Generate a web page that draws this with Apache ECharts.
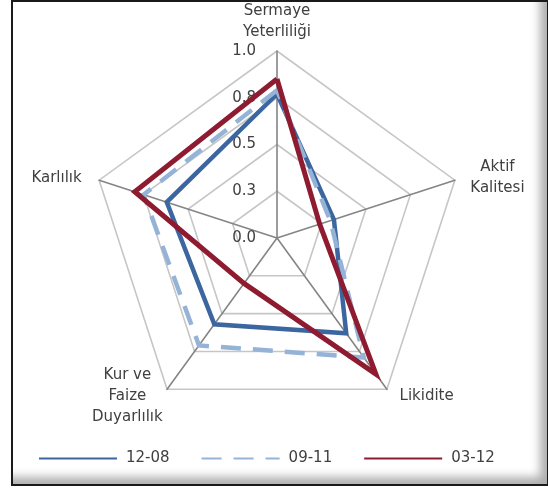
<!DOCTYPE html>
<html>
<head>
<meta charset="utf-8">
<script src="https://cdn.jsdelivr.net/npm/echarts@6/dist/echarts.min.js"></script>
<style>
  html, body { margin: 0; padding: 0; background: #ffffff; }
  #frame {
    position: absolute; left: 11px; top: 0px; width: 534px; height: 482px;
    border: 2px solid #1a1a1a; background: #ffffff;
    box-shadow: inset -13px -13px 10px -6px rgba(0,0,0,0.32);
  }
  #chart { position: absolute; left: 0; top: 0; width: 548px; height: 489px; }
</style>
</head>
<body>
<div id="frame"></div>
<div id="chart"></div>
<script>
// Indicator order (ECharts places them counter-clockwise from the top)
const indicators = ['Sermaye\nYeterliliği', 'Karlılık', 'Kur ve\nFaize\nDuyarlılık', 'Likidite', 'Aktif\nKalitesi'];
const seriesNames = ['12-08', '09-11', '03-12'];
const values1208 = [0.77, 0.62, 0.57, 0.63, 0.32];
const values0911 = [0.79, 0.75, 0.71, 0.79, 0.30];
const values0312 = [0.85, 0.80, 0.30, 0.90, 0.24];
const tickLabels = ['0.0', '0.3', '0.5', '0.8', '1.0'];

const colors = ['#3b66a0', '#95b3d7', '#8e1b30'];
const lineTypes = ['solid', [20, 12], 'solid'];
const allValues = [values1208, values0911, values0312];

const chart = echarts.init(document.getElementById('chart'), null, { renderer: 'canvas' });
const font = 'DejaVu Sans';

const option = {
  backgroundColor: 'transparent',
  animation: false,
  grid: { left: -200, top: -200, width: 10, height: 10 },
  xAxis: { show: false, type: 'category', data: [] },
  yAxis: { show: false, type: 'value' },
  legend: {
    data: seriesNames,
    left: 33, top: 446,
    itemWidth: 78, itemHeight: 14, itemGap: 31,
    itemStyle: { opacity: 0 },
    textStyle: { color: '#404040', fontSize: 15, fontFamily: font, padding: [0, 0, 0, 4] }
  },
  radar: {
    center: [277, 238],
    radius: 187,
    startAngle: 90,
    shape: 'polygon',
    splitNumber: 4,
    indicator: indicators.map((n, i) => ({
      name: n, min: 0, max: 1,
      axisLabel: { show: i === 0 }
    })),
    axisName: {
      color: '#404040', fontSize: 15, fontFamily: font,
      formatter: function (name) {
        return name.split('\n').map(s => '{c|' + s + '}').join('\n');
      },
      rich: { c: { align: 'center', width: 70, fontSize: 15, fontFamily: font, color: '#404040', lineHeight: 21 } }
    },
    nameGap: 8,
    axisLine: { lineStyle: { color: '#858585', width: 1.6 } },
    splitLine: { lineStyle: { color: '#c6c6c6', width: 1.6 } },
    splitArea: { show: false },
    axisTick: { show: false },
    axisLabel: {
      show: false, color: '#404040', fontSize: 15, fontFamily: font, margin: 21,
      formatter: function (v) { return tickLabels[Math.round(v * 4)]; }
    }
  },
  series: seriesNames.map((name, i) => ({
    name: name, type: 'line', data: [], showSymbol: false, symbol: 'none',
    lineStyle: { color: colors[i], width: 4, type: lineTypes[i] },
    itemStyle: { color: colors[i] }
  })).concat([{
    type: 'radar',
    symbol: 'none',
    data: seriesNames.map((name, i) => ({
      name: name,
      value: allValues[i],
      lineStyle: { color: colors[i], width: i === 2 ? 5 : 4.5, type: lineTypes[i], join: 'miter' },
      itemStyle: { color: colors[i] }
    }))
  }])
};
chart.setOption(option);
</script>
</body>
</html>
